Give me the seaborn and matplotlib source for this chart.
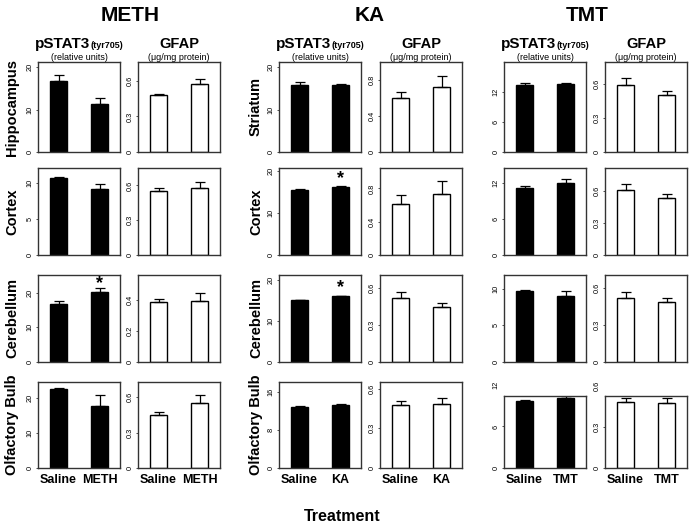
# pSTAT3 / GFAP bar panels for METH, KA and TMT treatments
import numpy as np
import pandas as pd
import matplotlib
matplotlib.use("Agg")
import matplotlib.pyplot as plt
import seaborn as sns

W, H = 691, 525

treatments   = ["METH", "KA", "TMT"]
regions_meth = ["Hippocampus", "Cortex", "Cerebellum", "Olfactory Bulb"]
regions_ka   = ["Striatum", "Cortex", "Cerebellum", "Olfactory Bulb"]

# values: one [saline, treated] pair per brain region
pstat3_meth     = [[16.8, 11.2], [10.6, 9.1], [16.7, 20.2], [22.6, 17.8]]
pstat3_meth_err = [[1.4, 1.6], [0.1, 0.7], [0.8, 1.1], [0.5, 3.3]]
gfap_meth       = [[0.48, 0.575], [0.551, 0.577], [0.385, 0.394], [0.447, 0.55]]
gfap_meth_err   = [[0.01, 0.042], [0.023, 0.052], [0.022, 0.05], [0.028, 0.066]]

pstat3_ka       = [[15.8, 15.8], [15.6, 16.2], [15.1, 16.1], [12.7, 13.1]]
pstat3_ka_err   = [[0.7, 0.2], [0.15, 0.2], [0.15, 0.1], [0.2, 0.2]]
gfap_ka         = [[0.605, 0.717], [0.61, 0.728], [0.521, 0.447], [0.476, 0.481]]
gfap_ka_err     = [[0.06, 0.123], [0.115, 0.158], [0.046, 0.033], [0.033, 0.046]]

pstat3_tmt      = [[13.4, 13.6], [11.1, 11.9], [9.7, 9.0], [9.66, 10.09]]
pstat3_tmt_err  = [[0.3, 0.2], [0.27, 0.6], [0.1, 0.65], [0.2, 0.28]]
gfap_tmt        = [[0.593, 0.507], [0.609, 0.538], [0.522, 0.485], [0.483, 0.475]]
gfap_tmt_err    = [[0.057, 0.036], [0.06, 0.037], [0.046, 0.037], [0.029, 0.037]]

# significance flags (asterisk above bar)
sig_meth = [[False, False], [False, False], [False, True], [False, False]]
sig_ka   = [[False, False], [False, True], [False, True], [False, False]]
sig_tmt  = [[False, False], [False, False], [False, False], [False, False]]

# axis ranges and ticks per panel
pstat3_ymax  = {"METH": [21.2, 12.0, 25.1, 24.7], "KA": [21.2, 20.8, 21.3, 18.0], "TMT": [17.9, 14.4, 11.9, 10.4]}
gfap_ymax    = {"METH": [0.76, 0.75, 0.558, 0.73], "KA": [1.0, 1.045, 0.707, 0.65], "TMT": [0.795, 0.818, 0.706, 0.529]}
pstat3_ticks = {"METH": [[0, 10, 20], [0, 5, 10], [0, 10, 20], [0, 10, 20]],
                "KA":   [[0, 10, 20], [0, 10, 20], [0, 10, 20], [0, 8, 16]],
                "TMT":  [[0, 6, 12], [0, 6, 12], [0, 5, 10], [0, 6, 12]]}
gfap_ticks   = {"METH": [[0, 0.3, 0.6], [0, 0.3, 0.6], [0, 0.2, 0.4], [0, 0.3, 0.6]],
                "KA":   [[0, 0.4, 0.8], [0, 0.4, 0.8], [0, 0.3, 0.6], [0, 0.3, 0.6]],
                "TMT":  [[0, 0.3, 0.6], [0, 0.3, 0.6], [0, 0.3, 0.6], [0, 0.3, 0.6]]}

data = {
    "METH": dict(p=pstat3_meth, pe=pstat3_meth_err, g=gfap_meth, ge=gfap_meth_err, sig=sig_meth, rows=regions_meth),
    "KA":   dict(p=pstat3_ka, pe=pstat3_ka_err, g=gfap_ka, ge=gfap_ka_err, sig=sig_ka, rows=regions_ka),
    "TMT":  dict(p=pstat3_tmt, pe=pstat3_tmt_err, g=gfap_tmt, ge=gfap_tmt_err, sig=sig_tmt, rows=None),
}

# layout in pixels
col_px   = {"METH": (38, 138), "KA": (279, 380), "TMT": (504, 605)}
PW       = 82
row_top  = [62, 168, 275, 382]
row_bot  = [152, 255, 362, 468]
tmt_top4 = 396
title_x  = {"METH": 130, "KA": 370, "TMT": 587}
rowlab_x = {"METH": 12, "KA": 256}
EDGE = "#333333"

sns.set_theme(style="ticks", rc={"text.color": "black", "axes.labelcolor": "black",
                                 "xtick.color": "black", "ytick.color": "black"})
plt.rcParams["font.family"] = ["Liberation Sans", "DejaVu Sans"]

fig = plt.figure(figsize=(W / 100, H / 100), dpi=100)


def px_axes(x0, y0, x1, y1):
    return fig.add_axes([x0 / W, 1 - y1 / H, (x1 - x0) / W, (y1 - y0) / H])


def draw_panel(ax, groups, means, errs, ymax, yticks, fill, bottom, sig):
    df = pd.DataFrame({"group": groups, "value": means})
    sns.barplot(data=df, x="group", y="value", color=fill, edgecolor="black",
                linewidth=1.0, width=0.4, saturation=1, errorbar=None, ax=ax)
    centers = [p.get_x() + p.get_width() / 2 for p in ax.patches]
    ax.errorbar(centers, means, yerr=[np.zeros(len(errs)), errs], fmt="none",
                ecolor="black", elinewidth=0.9, capsize=3.5, capthick=0.9)
    ax.set_xlim(-0.5, 1.5)
    ax.set_ylim(0, ymax)
    inside = [t for t in yticks if t <= ymax]
    ax.set_yticks(inside)
    ax.set_yticklabels([f"{t:g}" for t in inside], rotation=90, va="center", fontsize=5.3)
    for t in yticks:
        if t > ymax:
            ax.annotate(f"{t:g}", xy=(0, t), xycoords=("axes fraction", "data"),
                        xytext=(-3, 0), textcoords="offset points", rotation=90,
                        ha="right", va="center", fontsize=5.3, annotation_clip=False)
    ax.tick_params(axis="y", length=1.5, width=0.6, pad=1.5, color=EDGE, labelcolor="black")
    ax.tick_params(axis="x", length=0, pad=4, labelcolor="black")
    if bottom:
        ax.set_xticklabels(groups, fontsize=9, fontweight="bold")
    else:
        ax.tick_params(axis="x", labelbottom=False)
    ax.set_xlabel("")
    ax.set_ylabel("")
    for s in ax.spines.values():
        s.set_visible(True)
        s.set_color(EDGE)
        s.set_linewidth(1.0)
    for i, flag in enumerate(sig):
        if flag:
            ax.annotate("*", xy=(centers[i], means[i]), xytext=(0, 6),
                        textcoords="offset points", ha="center", va="center",
                        fontsize=13, fontweight="bold")


for treat in treatments:
    d = data[treat]
    groups = ["Saline", treat]
    xp, xg = col_px[treat]
    for r in range(4):
        top = tmt_top4 if (treat == "TMT" and r == 3) else row_top[r]
        bot = row_bot[r]
        bottom = r == 3
        ax_p = px_axes(xp, top, xp + PW, bot)
        draw_panel(ax_p, groups, d["p"][r], d["pe"][r], pstat3_ymax[treat][r],
                   pstat3_ticks[treat][r], "black", bottom, d["sig"][r])
        ax_g = px_axes(xg, top, xg + PW, bot)
        draw_panel(ax_g, groups, d["g"][r], d["ge"][r], gfap_ymax[treat][r],
                   gfap_ticks[treat][r], "white", bottom, [False, False])
        if d["rows"] is not None:
            fig.text(rowlab_x[treat] / W, 1 - (row_top[r] + bot) / 2 / H, d["rows"][r],
                     rotation=90, ha="center", va="center", fontsize=10.5, fontweight="bold")

    # column titles and headers
    fig.text(title_x[treat] / W, 1 - 21 / H, treat, ha="center", va="baseline",
             fontsize=15, fontweight="bold")
    cp = xp + PW / 2
    cg = xg + PW / 2
    t1 = fig.text(0, 1 - 48 / H, "pSTAT3", ha="left", va="baseline", fontsize=11, fontweight="bold")
    t2 = fig.text(0, 1 - 48 / H, "(tyr705)", ha="left", va="baseline", fontsize=6.5, fontweight="bold")
    renderer = fig.canvas.get_renderer()
    w1 = t1.get_window_extent(renderer).width
    w2 = t2.get_window_extent(renderer).width
    x_start = cp - (w1 + w2) / 2
    t1.set_x(x_start / W)
    t2.set_x((x_start + w1) / W)
    fig.text(cp / W, 1 - 57 / H, "(relative units)", ha="center", va="center", fontsize=6.5)
    fig.text(cg / W, 1 - 48 / H, "GFAP", ha="center", va="baseline", fontsize=10.5, fontweight="bold")
    fig.text(cg / W, 1 - 57 / H, "(\u03bcg/mg protein)", ha="center", va="center", fontsize=6.5)

fig.text(342 / W, 1 - 521 / H, "Treatment", ha="center", va="baseline",
         fontsize=11.5, fontweight="bold")

fig.savefig("out.png", dpi=100)
